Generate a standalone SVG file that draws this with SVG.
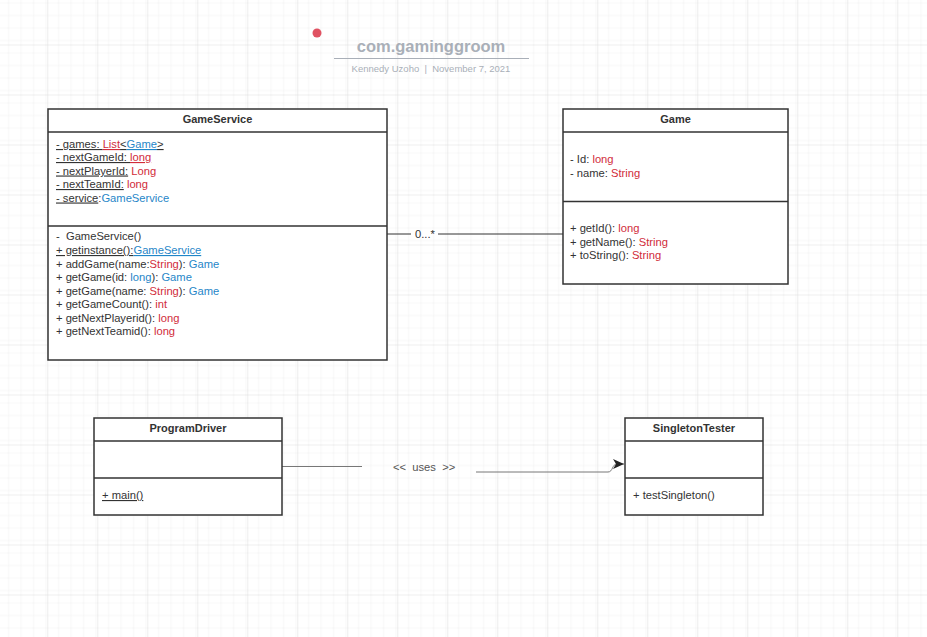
<svg xmlns="http://www.w3.org/2000/svg" width="927" height="637" viewBox="0 0 927 637">
<defs>
<pattern id="minor" x="-1.7" y="-4.5" width="12.5" height="12.5" patternUnits="userSpaceOnUse">
<path d="M12.5 0V12.5M0 12.5H12.5" fill="none" stroke="#efefef" stroke-width="1"/>
</pattern>
<pattern id="major" x="-1.7" y="-4.5" width="50" height="50" patternUnits="userSpaceOnUse">
<rect width="50" height="50" fill="url(#minor)"/>
<path d="M50 0V50M0 50H50" fill="none" stroke="#dddddd" stroke-width="1"/>
</pattern>
<marker id="arrow" markerWidth="12" markerHeight="10" refX="11" refY="5" orient="auto" markerUnits="userSpaceOnUse">
<path d="M0 0L11 5L0 10L3 5Z" fill="#222"/>
</marker>
</defs>
<style>
.box{fill:#fff;stroke:#333;stroke-width:1.5}
.sep{stroke:#333;stroke-width:1.5;fill:none}
.t{font-family:"Liberation Sans",Arial,sans-serif;font-size:11.2px;fill:#333}
.h{font-family:"Liberation Sans",Arial,sans-serif;font-size:11px;font-weight:bold;fill:#333;text-anchor:middle}
.r{fill:#d12c3a}
.b{fill:#1f86c8}
.u{text-decoration:underline}
.conn{fill:none;stroke:#333;stroke-width:1}
</style>
<rect width="927" height="637" fill="#fff"/>
<rect width="927" height="637" fill="url(#major)"/>

<g id="title">
<circle cx="317" cy="33" r="4.5" fill="#e05262"/>
<text x="431" y="52" font-family="Liberation Sans,Arial,sans-serif" font-size="16.5" font-weight="bold" fill="#a9afb8" text-anchor="middle">com.gaminggroom</text>
<line x1="334" y1="58.5" x2="529" y2="58.5" stroke="#a9afb8" stroke-width="1.2"/>
<text x="431" y="72" font-family="Liberation Sans,Arial,sans-serif" font-size="9.5" fill="#a9afb8" text-anchor="middle" xml:space="preserve">Kennedy Uzoho  |  November 7, 2021</text>
</g>

<g id="connectors">
<line class="conn" x1="387" y1="234" x2="411" y2="234"/>
<line class="conn" x1="438" y1="234" x2="563" y2="234"/>
<text class="t" x="415" y="238">0...*</text>
<line x1="282" y1="466.5" x2="362" y2="466.5" stroke="#777" stroke-width="1"/>
<path d="M476 472H608C613 472 612 464 617 464H624" fill="none" stroke="#777" stroke-width="1" marker-end="url(#arrow)"/>
<text x="393" y="471" font-family="Liberation Sans,Arial,sans-serif" font-size="11.2" fill="#555" xml:space="preserve">&lt;&lt;  uses  &gt;&gt;</text>
</g>

<g id="GameService">
<rect class="box" x="48" y="109" width="339" height="251"/>
<line class="sep" x1="48" y1="132" x2="387" y2="132"/>
<line class="sep" x1="48" y1="226" x2="387" y2="226"/>
<text class="h" x="217.5" y="123">GameService</text>
<text class="t" x="56" y="148"><tspan class="u">- games: </tspan><tspan class="r u">List</tspan><tspan class="u">&lt;</tspan><tspan class="b u">Game</tspan><tspan class="u">&gt;</tspan></text>
<text class="t" x="56" y="161"><tspan class="u">- nextGameId: </tspan><tspan class="r u">long</tspan></text>
<text class="t" x="56" y="174.5"><tspan class="u">- nextPlayerId:</tspan> <tspan class="r">Long</tspan></text>
<text class="t" x="56" y="188"><tspan class="u">- nextTeamId:</tspan> <tspan class="r">long</tspan></text>
<text class="t" x="56" y="201.5"><tspan class="u">- service</tspan>:<tspan class="b">GameService</tspan></text>
<text class="t" x="56" y="240" xml:space="preserve">-  GameService()</text>
<text class="t" x="56" y="254"><tspan class="u">+ getinstance():</tspan><tspan class="b u">GameService</tspan></text>
<text class="t" x="56" y="267.5">+ addGame(name:<tspan class="r">String</tspan>): <tspan class="b">Game</tspan></text>
<text class="t" x="56" y="281">+ getGame(id: <tspan class="b">long</tspan>): <tspan class="b">Game</tspan></text>
<text class="t" x="56" y="294.5">+ getGame(name: <tspan class="r">String</tspan>): <tspan class="b">Game</tspan></text>
<text class="t" x="56" y="308">+ getGameCount(): <tspan class="r">int</tspan></text>
<text class="t" x="56" y="321.5">+ getNextPlayerid(): <tspan class="r">long</tspan></text>
<text class="t" x="56" y="335">+ getNextTeamid(): <tspan class="r">long</tspan></text>
</g>

<g id="Game">
<rect class="box" x="563" y="109" width="225" height="175"/>
<line class="sep" x1="563" y1="132" x2="788" y2="132"/>
<line class="sep" x1="563" y1="201.5" x2="788" y2="201.5"/>
<text class="h" x="675.5" y="123">Game</text>
<text class="t" x="570" y="163">- Id: <tspan class="r">long</tspan></text>
<text class="t" x="570" y="177">- name: <tspan class="r">String</tspan></text>
<text class="t" x="570" y="232">+ getId(): <tspan class="r">long</tspan></text>
<text class="t" x="570" y="246">+ getName(): <tspan class="r">String</tspan></text>
<text class="t" x="570" y="259">+ toString(): <tspan class="r">String</tspan></text>
</g>

<g id="ProgramDriver">
<rect class="box" x="94" y="418" width="188" height="97"/>
<line class="sep" x1="94" y1="441" x2="282" y2="441"/>
<line class="sep" x1="94" y1="478" x2="282" y2="478"/>
<text class="h" x="188" y="432">ProgramDriver</text>
<text class="t u" x="102" y="499">+ main()</text>
</g>

<g id="SingletonTester">
<rect class="box" x="625" y="418" width="138" height="97"/>
<line class="sep" x1="625" y1="441" x2="763" y2="441"/>
<line class="sep" x1="625" y1="478" x2="763" y2="478"/>
<text class="h" x="694" y="432">SingletonTester</text>
<text class="t" x="633" y="499">+ testSingleton()</text>
</g>
</svg>
